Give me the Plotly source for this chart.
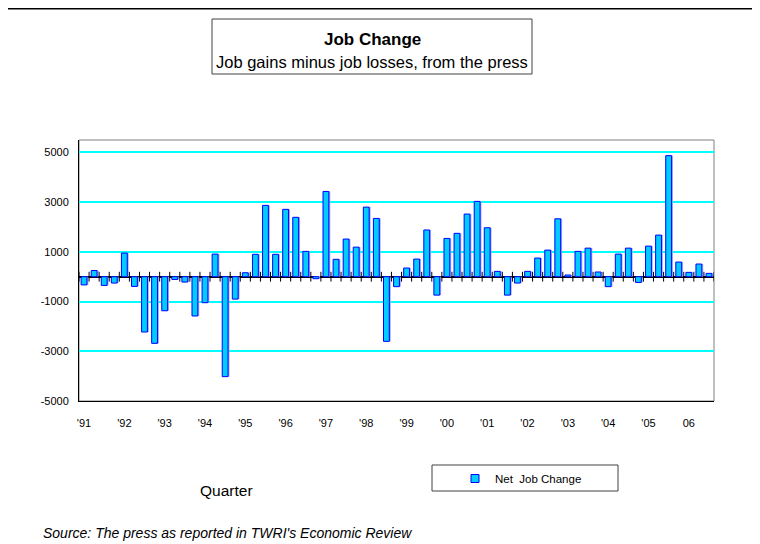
import plotly.graph_objects as go

# quarterly net job change, 1991 Q1 .. 2006 Q3
quarters = [f"{y} Q{q}" for y in range(1991, 2007) for q in range(1, 5)][:63]
net_change = [
    -330, 250, -350, -255, 950, -390, -2225, -2680,
    -1370, -110, -215, -1580, -1045, 910, -4020, -900,
    160, 900, 2870, 900, 2710, 2390, 1020, -80,
    3430, 700, 1515, 1190, 2800, 2345, -2600, -400,
    350, 710, 1880, -740, 1540, 1745, 2520, 3030,
    1970, 215, -740, -255, 215, 750, 1070, 2330,
    70, 1020, 1150, 190, -400, 910, 1150, -230,
    1230, 1675, 4870, 590, 175, 510, 135,
]
year_labels = ["'91", "'92", "'93", "'94", "'95", "'96", "'97", "'98",
               "'99", "'00", "'01", "'02", "'03", "'04", "'05", "06"]
y_ticks = [-5000, -3000, -1000, 1000, 3000, 5000]

FONT = "Liberation Sans, Arial, sans-serif"
FILL, EDGE = "#00CCFF", "#0000FF"

# the page puts the figure 8px from the top-left corner
OFF = 8
FW, FH = 760 - OFF, 544 - OFF
# plot area in page pixels: x 79..714, y 140..401
L, R, T, B = 79 - OFF, 714 - OFF, 140 - OFF, 401 - OFF
W, H = R - L, B - T


def px(x):
    return (x - OFF - L) / W


def py(y):
    return (B - (y - OFF)) / H


xpos = list(range(len(quarters)))
BW = 0.58

fig = go.Figure()

# soft shadow to the right of each bar
fig.add_trace(go.Bar(
    x=xpos, y=net_change, width=BW, offset=-BW / 2 + 0.14,
    showlegend=False, hoverinfo="skip",
    marker=dict(color="#A8A8FF", line=dict(width=0)),
))

fig.add_trace(go.Bar(
    x=xpos,
    y=net_change,
    name="Net  Job Change",
    width=BW, offset=-BW / 2,
    showlegend=False,
    customdata=quarters,
    hovertemplate="%{customdata}: %{y}<extra></extra>",
    marker=dict(color=FILL, line=dict(color=EDGE, width=1)),
))

# legend entry with a small square key
fig.add_trace(go.Scatter(
    x=[None], y=[None], mode="markers", name="Net  Job Change",
    marker=dict(symbol="square", size=8, color=FILL, line=dict(color=EDGE, width=1)),
))

# category boundary tick marks on the zero line
bounds = [i - 0.5 for i in range(len(quarters) + 1)]
fig.add_trace(go.Scatter(
    x=bounds, y=[0] * len(bounds),
    mode="markers", showlegend=False, hoverinfo="skip",
    marker=dict(symbol="line-ns", size=7, line=dict(color="black", width=1)),
))

fig.update_layout(
    width=FW, height=FH, autosize=False,
    margin=dict(l=L, r=FW - R, t=T, b=FH - B),
    paper_bgcolor="white",
    plot_bgcolor="white",
    font=dict(family=FONT, color="black", size=11),
    barmode="overlay",
    showlegend=True,
    legend=dict(
        x=px(455), xanchor="left", y=py(464), yanchor="top",
        orientation="h", bgcolor="rgba(0,0,0,0)",
        font=dict(size=11.5, family=FONT),
    ),
    xaxis=dict(
        range=[-0.5, len(quarters) - 0.5],
        tickmode="array",
        tickvals=xpos[::4],
        ticktext=year_labels,
        ticks="",
        ticklabelstandoff=12,
        showline=True, linecolor="black", linewidth=1,
        showgrid=False, zeroline=False,
        tickfont=dict(size=11),
    ),
    yaxis=dict(
        range=[-5000, 5500],
        tickmode="array",
        tickvals=y_ticks,
        ticktext=[str(v) for v in y_ticks],
        ticks="",
        ticklabelstandoff=7,
        showline=True, linecolor="black", linewidth=1,
        showgrid=True, gridcolor="#00FFFF", gridwidth=1.5,
        zeroline=True, zerolinecolor="black", zerolinewidth=2,
        tickfont=dict(size=11),
    ),
    shapes=[
        # plot area top/right border
        dict(type="rect", xref="paper", yref="paper", x0=0, x1=1, y0=0, y1=1,
             line=dict(color="#808080", width=1), layer="below"),
        # outer chart border (top, right)
        dict(type="line", xref="paper", yref="paper",
             x0=px(0), x1=px(760), y0=py(8.5), y1=py(8.5),
             line=dict(color="black", width=2)),
        dict(type="line", xref="paper", yref="paper",
             x0=px(756), x1=px(756), y0=py(8), y1=py(544),
             line=dict(color="black", width=2)),
        # title box
        dict(type="rect", xref="paper", yref="paper",
             x0=px(212), x1=px(532), y0=py(74), y1=py(19),
             line=dict(color="#404040", width=1), fillcolor="white"),
        # legend box
        dict(type="rect", xref="paper", yref="paper",
             x0=px(432), x1=px(618), y0=py(491), y1=py(465),
             line=dict(color="#404040", width=1)),
    ],
    annotations=[
        dict(text="<b>Job Change</b>", xref="paper", yref="paper",
             x=px(372), y=py(39), xanchor="center", yanchor="middle",
             showarrow=False, font=dict(size=17, family=FONT)),
        dict(text="Job gains minus job losses, from the press", xref="paper", yref="paper",
             x=px(372), y=py(62), xanchor="center", yanchor="middle",
             showarrow=False, font=dict(size=16.5, family=FONT)),
        dict(text="Quarter", xref="paper", yref="paper",
             x=px(226), y=py(490), xanchor="center", yanchor="middle",
             showarrow=False, font=dict(size=15.5, family=FONT)),
        dict(text="<i>Source: The press as reported in TWRI's Economic Review</i>",
             xref="paper", yref="paper", x=px(41), y=py(533),
             xanchor="left", yanchor="middle", showarrow=False,
             font=dict(size=14, family=FONT)),
    ],
)

fig.write_html("out.html")
